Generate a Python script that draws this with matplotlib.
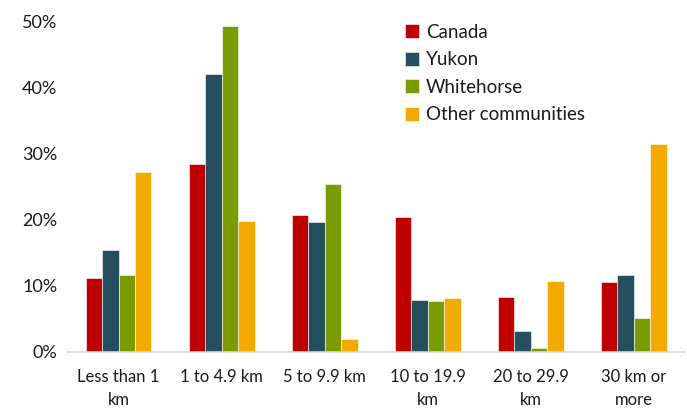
import numpy as np
import matplotlib.pyplot as plt

plt.rcParams['font.family'] = ['Lato', 'DejaVu Sans']

categories = ['Less than 1\nkm', '1 to 4.9 km', '5 to 9.9 km',
              '10 to 19.9\nkm', '20 to 29.9\nkm', '30 km or\nmore']
series_names = ['Canada', 'Yukon', 'Whitehorse', 'Other communities']
canada = [11.2, 28.4, 20.7, 20.5, 8.3, 10.6]
yukon = [15.4, 42.1, 19.6, 7.8, 3.1, 11.6]
whitehorse = [11.6, 49.4, 25.5, 7.7, 0.6, 5.1]
other = [27.2, 19.9, 1.9, 8.2, 10.8, 31.5]
colors = ['#C00000', '#254E5E', '#7A9C00', '#F2AA00']

fig = plt.figure(figsize=(6.87, 4.12), dpi=100)
ax = fig.add_axes([0.0975, 0.146, 0.9, 0.801])

x = np.arange(len(categories))
width = 0.16
for i, (vals, name) in enumerate(zip([canada, yukon, whitehorse, other], series_names)):
    ax.bar(x + (i - 1.5) * width, np.array(vals) / 100, width, color=colors[i],
           label=name, edgecolor='white', linewidth=0.4)

ax.set_xlim(-0.5, len(categories) - 0.5)
ax.set_ylim(0, 0.5)
ax.set_yticks(np.arange(0, 0.51, 0.1))
ax.set_yticklabels([f'{int(round(v * 100))}%' for v in np.arange(0, 0.51, 0.1)])
ax.set_xticks(x)
ax.set_xticklabels(categories, linespacing=1.6)

for s in ['top', 'right', 'left']:
    ax.spines[s].set_visible(False)
ax.spines['bottom'].set_color('#D9D9D9')
ax.spines['bottom'].set_linewidth(1.2)
ax.tick_params(axis='both', length=0, colors='#1a1a1a')
ax.tick_params(axis='x', pad=12, labelsize=12)
ax.tick_params(axis='y', pad=7, labelsize=13)

leg = ax.legend(loc='upper left', bbox_to_anchor=(0.52, 1.045), frameon=False,
                fontsize=13.5, handlelength=0.75, handleheight=0.75,
                handletextpad=0.35, labelspacing=0.56)
for t in leg.get_texts():
    t.set_color('#1a1a1a')

fig.savefig('out.png', dpi=100)
